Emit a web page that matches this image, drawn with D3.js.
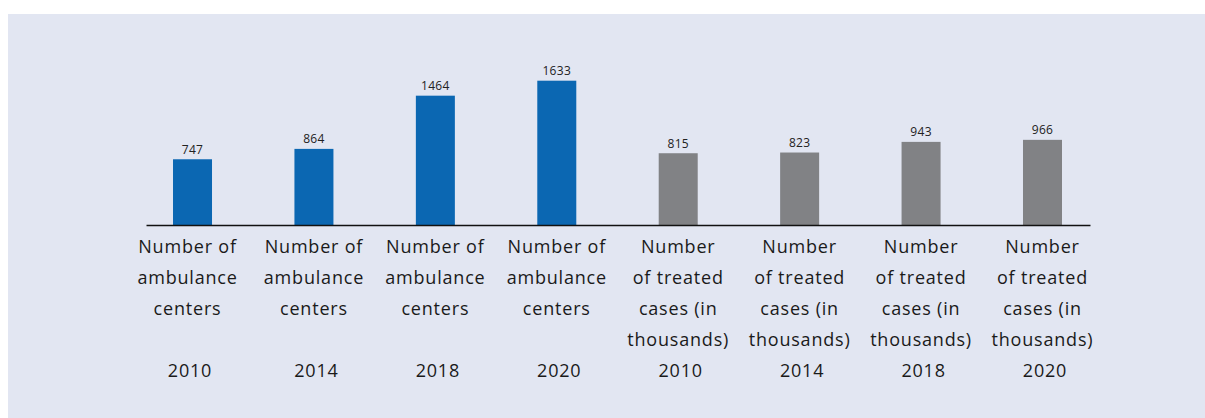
<!DOCTYPE html>
<html>
<head>
<meta charset="utf-8">
<script src="https://cdn.jsdelivr.net/npm/d3@7"></script>
<style>
  body { margin: 0; background: #fff; }
  svg { display: block; }
</style>
</head>
<body>
<div id="chart-area"></div>
<script>
// data
var categories = ["amb2010", "amb2014", "amb2018", "amb2020", "cases2010", "cases2014", "cases2018", "cases2020"];
var values = [747, 864, 1464, 1633, 815, 823, 943, 966];
var groups = ["ambulance", "ambulance", "ambulance", "ambulance", "cases", "cases", "cases", "cases"];
var labelLines = [
    ["Number of", "ambulance", "centers", "", "2010"],
    ["Number of", "ambulance", "centers", "", "2014"],
    ["Number of", "ambulance", "centers", "", "2018"],
    ["Number of", "ambulance", "centers", "", "2020"],
    ["Number", "of treated", "cases (in", "thousands)", "2010"],
    ["Number", "of treated", "cases (in", "thousands)", "2014"],
    ["Number", "of treated", "cases (in", "thousands)", "2018"],
    ["Number", "of treated", "cases (in", "thousands)", "2020"]
];
var colors = {ambulance: "#0b67b2", cases: "#818285"};

var W = 1205, H = 418;
var baseY = 225.5;

var svg = d3.select("#chart-area").append("svg")
    .attr("width", W)
    .attr("height", H);

svg.append("rect")
    .attr("x", 8).attr("y", 14)
    .attr("width", W - 8).attr("height", H - 14)
    .attr("fill", "#e2e6f2");

var x = d3.scaleBand()
    .domain(categories)
    .range([131.8, 1103.2])
    .padding(0);

var y = d3.scaleLinear()
    .domain([0, 1633])
    .range([baseY, 80.7]);

var barW = 39;
var g = svg.append("g");

g.selectAll(".bar")
    .data(values)
    .enter().append("rect")
    .attr("class", "bar")
    .attr("x", (d, i) => x(categories[i]) + x.bandwidth() / 2 - barW / 2)
    .attr("y", (d) => y(d))
    .attr("width", barW)
    .attr("height", (d) => baseY - y(d))
    .attr("fill", (d, i) => colors[groups[i]]);

g.selectAll(".val")
    .data(values)
    .enter().append("text")
    .attr("class", "val")
    .attr("x", (d, i) => x(categories[i]) + x.bandwidth() / 2)
    .attr("y", (d) => y(d) - 5.5)
    .attr("text-anchor", "middle")
    .attr("font-family", "'Open Sans', sans-serif")
    .attr("font-size", 12)
    .attr("letter-spacing", 0.3)
    .attr("fill", "#222")
    .text((d) => d);

// baseline
var c0 = x(categories[0]) + x.bandwidth() / 2,
    c1 = x(categories[categories.length - 1]) + x.bandwidth() / 2;
g.append("line")
    .attr("x1", c0 - 46).attr("x2", c1 + 48)
    .attr("y1", baseY).attr("y2", baseY)
    .attr("stroke", "#111")
    .attr("stroke-width", 1.5);

// category labels
var lab = g.selectAll(".lab")
    .data(labelLines)
    .enter().append("text")
    .attr("class", "lab")
    .attr("text-anchor", "middle")
    .attr("font-family", "'Open Sans', sans-serif")
    .attr("font-size", 18)
    .attr("letter-spacing", 0.8)
    .attr("fill", "#1a1a1a");

lab.each(function(lines, i) {
    var cx = x(categories[i]) + x.bandwidth() / 2;
    if (i === 0) cx -= 5;
    d3.select(this).selectAll("tspan")
        .data(lines)
        .enter().append("tspan")
        .attr("x", (d, j) => j === 4 ? cx + 2.5 : cx)
        .attr("y", (d, j) => 253 + j * 31)
        .text((d) => d);
});
</script>
</body>
</html>
